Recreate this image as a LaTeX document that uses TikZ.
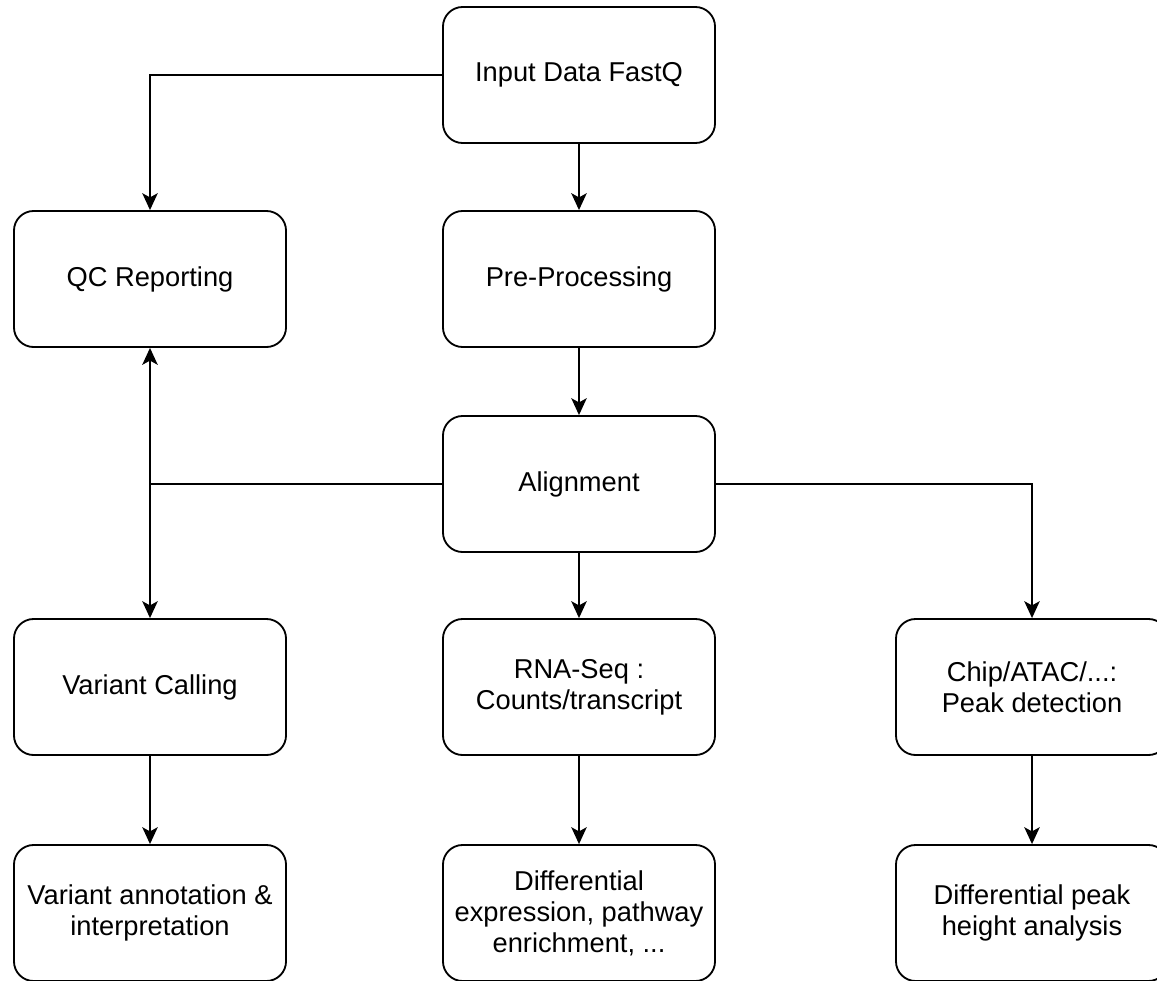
\documentclass[tikz,border=0pt]{standalone}
\usepackage{fontspec}
\setmainfont{Liberation Sans}
\usetikzlibrary{arrows.meta}
\tikzset{
  stage/.style={draw, line width=1.3pt, rounded corners=14pt, minimum width=6.8cm, minimum height=3.4cm,
    align=center, font=\fontsize{19.4}{22}\selectfont},
  flow/.style={line width=1.3pt, -{Stealth[length=12pt, width=11pt, inset=3pt]}}
}
\begin{document}
\begin{tikzpicture}[x=0.025cm, y=-0.025cm]
\def\colA{150}
\def\colB{579}
\def\colC{1032}
\useasboundingbox (0,0) rectangle (1157,980);
\node[stage] (input) at (\colB,75) {Input Data FastQ};
\node[stage] (qc) at (\colA,279) {QC Reporting};
\node[stage] (preproc) at (\colB,279) {Pre-Processing};
\node[stage] (align) at (\colB,484) {Alignment};
\node[stage] (variant) at (\colA,687) {Variant Calling};
\node[stage] (rnaseq) at (\colB,687) {RNA-Seq :\\Counts/transcript};
\node[stage] (peak) at (\colC,687) {Chip/ATAC/...:\\Peak detection};
\node[stage] (annot) at (\colA,913) {Variant annotation \&\\interpretation};
\node[stage] (diffexp) at (\colB,913) {Differential\\expression, pathway\\enrichment, ...};
\node[stage] (diffpeak) at (\colC,913) {Differential peak\\height analysis};
\draw[flow] (input.west) -| (qc.north);
\draw[flow] (input) -- (preproc);
\draw[flow] (preproc) -- (align);
\draw[flow] (align.west) -| (qc.south);
\draw[flow] (align.west) -| (variant.north);
\draw[flow] (align) -- (rnaseq);
\draw[flow] (align.east) -| (peak.north);
\draw[flow] (variant) -- (annot);
\draw[flow] (rnaseq) -- (diffexp);
\draw[flow] (peak) -- (diffpeak);
\end{tikzpicture}
\end{document}
